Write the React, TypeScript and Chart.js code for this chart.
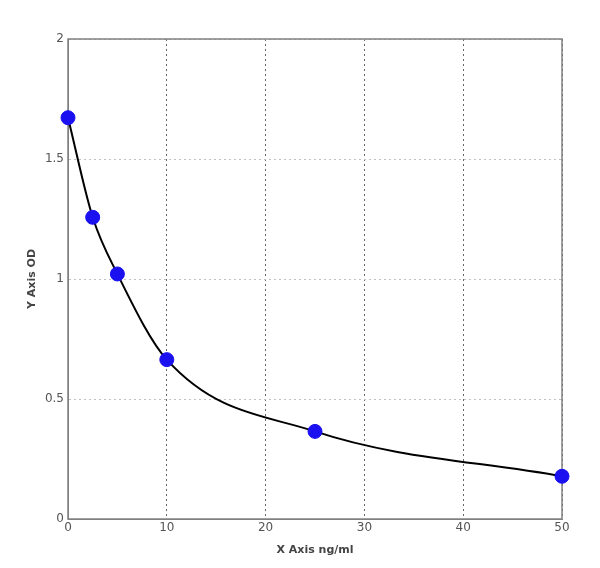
import React, { useEffect, useRef } from "react";
import { Chart, registerables } from "chart.js";

Chart.register(...registerables);

const concentrations = [0, 2.5, 5, 10, 25, 50];
const odValues = [1.672, 1.257, 1.021, 0.664, 0.365, 0.178];
const xTicks = [0, 10, 20, 30, 40, 50];
const yTicks = [0, 0.5, 1, 1.5, 2];

const framePlugin = {
  id: "frame",
  beforeDatasetsDraw(chart: any) {
    const { ctx, chartArea } = chart;
    ctx.save();
    ctx.strokeStyle = "#808080";
    ctx.lineWidth = 1.5;
    ctx.strokeRect(chartArea.left, chartArea.top, chartArea.right - chartArea.left, chartArea.bottom - chartArea.top);
    ctx.restore();
  },
};

export default function App() {
  const ref = useRef<HTMLCanvasElement>(null);
  useEffect(() => {
    const pts = concentrations.map((x, i) => ({ x, y: odValues[i] }));
    const chart = new Chart(ref.current!, {
      type: "scatter",
      data: {
        datasets: [
          {
            type: "line",
            data: pts,
            borderColor: "#000",
            borderWidth: 2,
            pointRadius: 0,
            cubicInterpolationMode: "monotone",
            fill: false,
            order: 2,
          } as any,
          {
            data: pts,
            backgroundColor: "#1a10f0",
            borderColor: "#1a10f0",
            pointRadius: 7,
            clip: false,
            order: 1,
          } as any,
        ],
      },
      options: {
        animation: false,
        responsive: false,
        maintainAspectRatio: false,
        plugins: { legend: { display: false }, tooltip: { enabled: false } },
        layout: { padding: { top: 39, right: 38, left: 0, bottom: 0 } },
        scales: {
          x: {
            type: "linear",
            min: 0,
            max: 50,
            afterBuildTicks: (s: any) => { s.ticks = xTicks.map((v) => ({ value: v })); },
            ticks: { color: "#555", font: { family: "DejaVu Sans", size: 12 }, padding: 2, maxRotation: 0 },
            grid: { color: "#666", lineWidth: 1, drawTicks: false },
            border: { color: "#808080", dash: [2, 3] } as any,
            title: { display: true, text: "X Axis ng/ml", color: "#444", font: { family: "DejaVu Sans", size: 11, weight: "bold" }, padding: { top: 2, bottom: 11 } },
            afterFit: (s: any) => { s.height = 49; },
          },
          y: {
            type: "linear",
            min: 0,
            max: 2,
            afterBuildTicks: (s: any) => { s.ticks = yTicks.map((v) => ({ value: v })); },
            ticks: { color: "#555", font: { family: "DejaVu Sans", size: 12 }, padding: 4, callback: (v: any) => String(v) },
            grid: { color: "#c0c0c0", lineWidth: 1, drawTicks: false },
            border: { color: "#808080", dash: [2, 3] } as any,
            title: { display: true, text: "Y Axis OD", color: "#444", font: { family: "DejaVu Sans", size: 11, weight: "bold" }, padding: { top: 26, bottom: 0 } },
            afterFit: (s: any) => { s.width = 68; },
          },
        },
      },
      plugins: [framePlugin],
    });
    return () => chart.destroy();
  }, []);
  return (
    <div style={{ position: "fixed", left: 0, top: 0, width: 600, height: 568, background: "#fff" }}>
      <canvas ref={ref} width={600} height={568} style={{ width: 600, height: 568 }} />
    </div>
  );
}
